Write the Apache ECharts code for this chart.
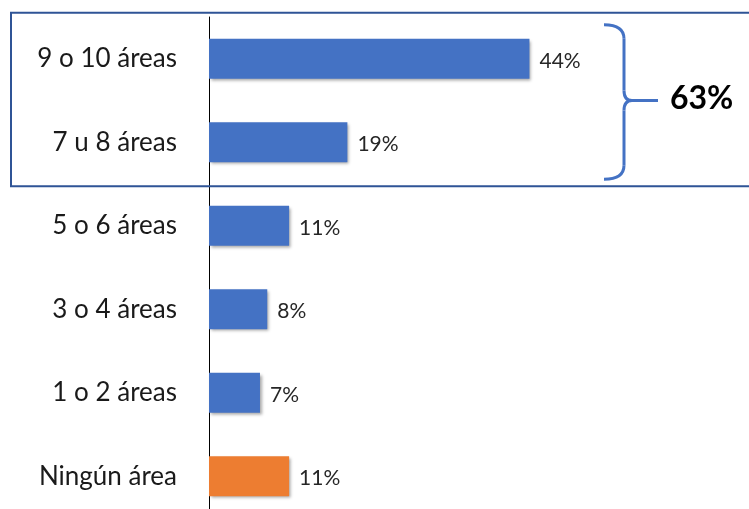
<!DOCTYPE html>
<html>
<head>
<meta charset="utf-8">
<script src="https://cdn.jsdelivr.net/npm/echarts@6/dist/echarts.min.js"></script>
<style>
  html, body { margin: 0; padding: 0; background: #fff; }
  #chart { width: 749px; height: 509px; }
</style>
</head>
<body>
<div id="chart"></div>
<script>
// data (percent of respondents)
const categories = ['9 o 10 áreas', '7 u 8 áreas', '5 o 6 áreas', '3 o 4 áreas', '1 o 2 áreas', 'Ningún área'];
const values = [44, 19, 11, 8, 7, 11];
// the two top categories are grouped under a bracket
const groupedIdx = [0, 1];

const FONT = 'Lato, "Open Sans", sans-serif';
const BLUE = '#4472c4';
const ORANGE = '#ed7d31';

const chart = echarts.init(document.getElementById('chart'));

const groupTotal = groupedIdx.reduce((s, i) => s + values[i], 0);

const option = {
  animation: false,
  grid: { left: 209, top: 17, width: 437, height: 501, outerBoundsMode: 'none' },
  xAxis: {
    type: 'value',
    min: 0,
    max: 60,
    show: false
  },
  yAxis: {
    type: 'category',
    inverse: true,
    data: categories,
    axisLine: { show: true, lineStyle: { color: '#000', width: 1 } },
    axisTick: { show: false },
    axisLabel: {
      margin: 32,
      fontFamily: FONT,
      fontSize: 26,
      color: '#1a1a1a'
    }
  },
  series: [{
    type: 'bar',
    data: values,
    barWidth: 40,
    itemStyle: {
      color: (p) => (p.dataIndex === categories.length - 1 ? ORANGE : BLUE),
      shadowColor: 'rgba(0,0,0,0.35)',
      shadowBlur: 3,
      shadowOffsetX: 2,
      shadowOffsetY: 2
    },
    label: {
      show: true,
      position: 'right',
      distance: 10,
      offset: [0, 2],
      formatter: '{c}%',
      fontFamily: FONT,
      fontSize: 21,
      color: '#262626'
    }
  }]
};

chart.setOption(option);

// frame + bracket placed from the category positions
const yTop = chart.convertToPixel({ yAxisIndex: 0 }, categories[groupedIdx[0]]);
const yBot = chart.convertToPixel({ yAxisIndex: 0 }, categories[groupedIdx[1]]);
const yMid = (yTop + yBot) / 2;
const bTop = yTop - 34, bBot = yBot + 37;
const bx = 624;
const bStyle = { fill: 'none', stroke: BLUE, lineWidth: 3 };

chart.setOption({
  graphic: [
    {
      type: 'rect',
      shape: { x: 11, y: yTop - 46, width: 760, height: yBot - yTop + 90 },
      style: { fill: 'none', stroke: '#2f5496', lineWidth: 2 },
      z: 10
    },
    { type: 'bezierCurve', shape: { x1: 604, y1: bTop, cpx1: bx, cpy1: bTop, x2: bx, y2: bTop + 14 }, style: bStyle, z: 10 },
    { type: 'line', shape: { x1: bx, y1: bTop + 14, x2: bx, y2: yMid - 10 }, style: bStyle, z: 10 },
    { type: 'bezierCurve', shape: { x1: bx, y1: yMid - 10, cpx1: bx, cpy1: yMid, x2: bx + 8, y2: yMid }, style: bStyle, z: 10 },
    { type: 'bezierCurve', shape: { x1: bx + 8, y1: yMid, cpx1: bx, cpy1: yMid, x2: bx, y2: yMid + 10 }, style: bStyle, z: 10 },
    { type: 'line', shape: { x1: bx + 8, y1: yMid, x2: 658, y2: yMid }, style: bStyle, z: 10 },
    { type: 'line', shape: { x1: bx, y1: yMid + 10, x2: bx, y2: bBot - 14 }, style: bStyle, z: 10 },
    { type: 'bezierCurve', shape: { x1: bx, y1: bBot - 14, cpx1: bx, cpy1: bBot, x2: 604, y2: bBot }, style: bStyle, z: 10 },
    {
      type: 'text',
      left: 670,
      top: yMid - 18,
      style: {
        text: groupTotal + '%',
        font: 'bold 32px ' + FONT,
        fill: '#000'
      },
      z: 10
    }
  ]
});
</script>
</body>
</html>
